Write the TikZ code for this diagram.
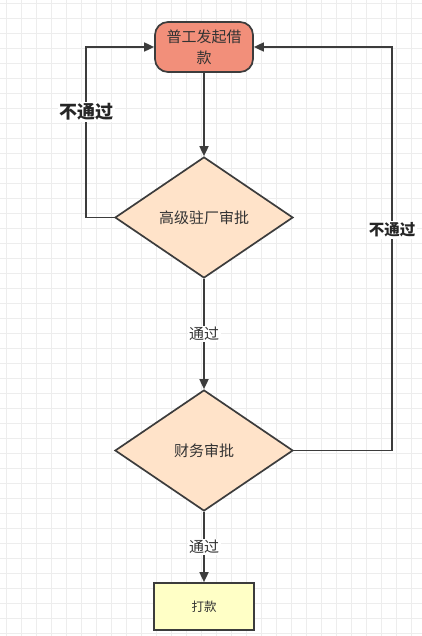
\documentclass[tikz,border=0pt]{standalone}
\usepackage{fontspec}
\setmainfont{Noto Sans CJK SC}
\usetikzlibrary{shapes.geometric,arrows.meta}
\definecolor{gridc}{HTML}{EDEDED}
\definecolor{linec}{HTML}{3C3C3C}
\definecolor{txtc}{HTML}{333333}
\definecolor{startc}{HTML}{F28F7A}
\definecolor{peach}{HTML}{FFE3C9}
\definecolor{yell}{HTML}{FFFFC6}
\begin{document}
\begin{tikzpicture}[x=1pt,y=-1pt,
  gridline/.style={draw=gridc, line width=0.8pt},
  conn/.style={draw=linec, line width=1.7pt},
  arr/.style={conn, -{Triangle[length=10pt,width=9pt]}},
  startbox/.style={draw=linec, line width=1.7pt, fill=startc, rounded corners=13pt,
    minimum width=98pt, minimum height=50pt, align=center, text=txtc,
    font=\fontsize{15}{21}\selectfont, inner sep=0pt},
  decision/.style={diamond, draw=linec, line width=1.7pt, fill=peach,
    minimum width=178pt, minimum height=121pt, inner sep=0pt, text=txtc,
    font=\fontsize{15}{18}\selectfont},
  paybox/.style={draw=linec, line width=1.7pt, fill=yell, minimum width=100pt,
    minimum height=47pt, inner sep=0pt, text=txtc, font=\fontsize{12.5}{15}\selectfont},
  passlbl/.style={fill=white, inner sep=1.5pt, text=txtc, font=\fontsize{15}{18}\selectfont},
  faillbl/.style={fill=white, inner sep=1.5pt, text=black!85, font=\bfseries}
]
\fill[white] (0,0) rectangle (422,636);
\useasboundingbox (0,0) rectangle (422,636);
\foreach \x in {6,21,...,420} \draw[gridline] (\x,0) -- (\x,636);
\foreach \y in {3,18,...,635} \draw[gridline] (0,\y) -- (422,\y);

\node[startbox] (start) at (204,47) {普工发起借\\款};
\node[decision] (d1) at (204,217.5) {高级驻厂审批};
\node[decision] (d2) at (204,450.5) {财务审批};
\node[paybox] (pay) at (204,606.5) {打款};

\coordinate (l1) at (86,217.5);
\coordinate (l2) at (86,47);
\coordinate (r1) at (392,450.5);
\coordinate (r2) at (392,47);

\draw[arr] (start.south) -- (d1.north);
\draw[arr] (d1.south) -- node[passlbl, pos=0.5] {通过} (d2.north);
\draw[arr] (d2.south) -- node[passlbl, pos=0.5] {通过} (pay.north);
\draw[arr] (d1.west) -- (l1) -- node[faillbl, pos=0.62, font=\bfseries\fontsize{18}{20}\selectfont] {不通过} (l2) -- (start.west);
\draw[arr] (d2.east) -- (r1) -- node[faillbl, pos=0.547, font=\bfseries\fontsize{15.5}{18}\selectfont] {不通过} (r2) -- (start.east);
\end{tikzpicture}
\end{document}
